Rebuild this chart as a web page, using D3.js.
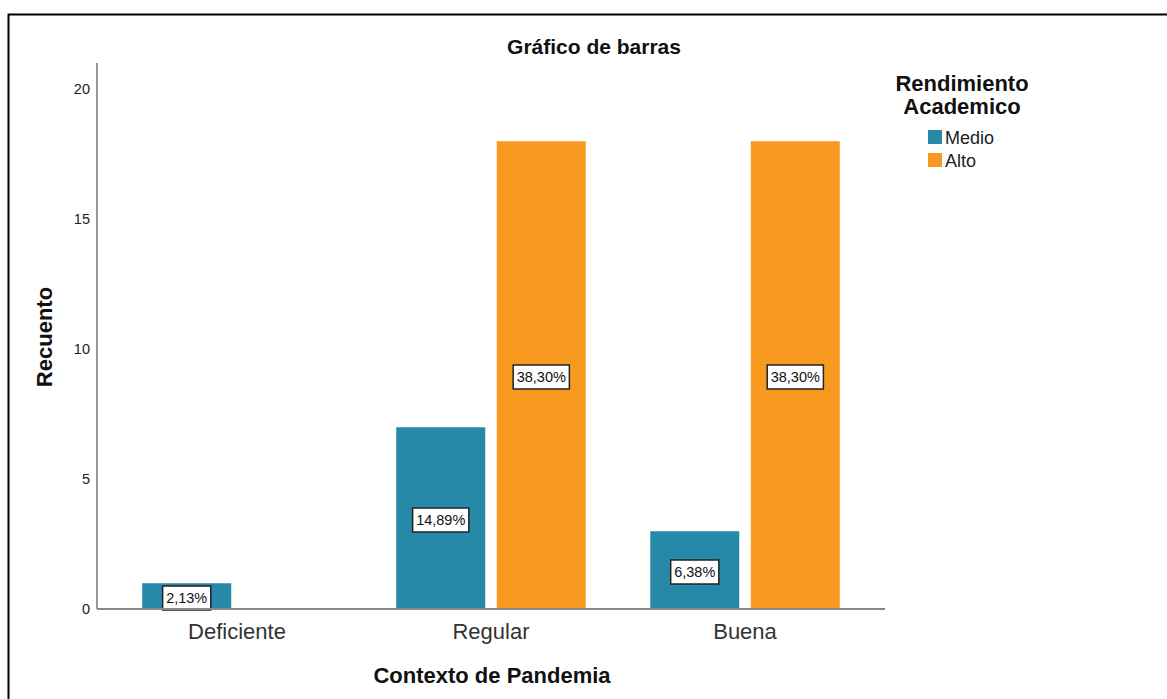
<!DOCTYPE html>
<html>
<head>
<meta charset="utf-8">
<script src="https://cdn.jsdelivr.net/npm/d3@7"></script>
<style>
    body { margin: 0; background: #fff; }
    svg { display: block; font-family: "Liberation Sans", Arial, sans-serif; }
</style>
</head>
<body>
<div id="chart"></div>
<script>
const categories = ['Deficiente', 'Regular', 'Buena'];
const series = ['Medio', 'Alto'];
const medioValues = [1, 7, 3];
const altoValues = [0, 18, 18];
const medioLabels = ['2,13%', '14,89%', '6,38%'];
const altoLabels = ['', '38,30%', '38,30%'];
const yTicks = [0, 5, 10, 15, 20];
const colors = ['#2789a8', '#f89a20'];

const width = 1167, height = 699;
const svg = d3.select('#chart').append('svg')
    .attr('width', width)
    .attr('height', height);

// outer frame (cut off at right and bottom)
svg.append('path')
    .attr('d', 'M8.5,' + height + ' V14.5 H' + width)
    .attr('fill', 'none')
    .attr('stroke', '#000')
    .attr('stroke-width', 2);

const plotLeft = 97, plotRight = 885, plotTop = 63, plotBottom = 609;

const x = d3.scaleBand()
    .domain(categories)
    .range([plotLeft, plotRight])
    .paddingInner(0.252)
    .paddingOuter(0.177);

const xs = d3.scaleBand()
    .domain(series)
    .range([0, x.bandwidth()])
    .paddingInner(0.11);

const y = d3.scaleLinear()
    .domain([0, 21])
    .range([plotBottom, plotTop]);

const rows = categories.map((c, i) => ({
    cat: c,
    vals: [
        { s: 'Medio', v: medioValues[i], label: medioLabels[i] },
        { s: 'Alto', v: altoValues[i], label: altoLabels[i] }
    ]
}));

// title
svg.append('text')
    .attr('x', 594).attr('y', 54)
    .attr('text-anchor', 'middle')
    .attr('font-size', 21).attr('font-weight', 'bold')
    .attr('fill', '#111')
    .text('Gráfico de barras');

// bars
const groups = svg.selectAll('g.cat')
    .data(rows)
    .enter().append('g')
    .attr('class', 'cat')
    .attr('transform', d => `translate(${x(d.cat)},0)`);

groups.selectAll('rect')
    .data(d => d.vals.filter(v => v.v > 0))
    .enter().append('rect')
    .attr('x', d => xs(d.s))
    .attr('y', d => y(d.v))
    .attr('width', xs.bandwidth())
    .attr('height', d => y(0) - y(d.v))
    .attr('fill', d => colors[series.indexOf(d.s)])
    .attr('stroke', '#fff')
    .attr('stroke-opacity', 0.5)
    .attr('stroke-width', 1);

// value labels
const labs = groups.selectAll('g.lab')
    .data(d => d.vals.filter(v => v.v > 0 && v.label))
    .enter().append('g')
    .attr('class', 'lab')
    .attr('transform', d => `translate(${xs(d.s) + xs.bandwidth() / 2},${(y(d.v) + y(0)) / 2 + 2})`);

labs.each(function(d) {
    const g = d3.select(this);
    const t = g.append('text')
        .attr('text-anchor', 'middle')
        .attr('dy', '0.36em')
        .attr('font-size', 14.5)
        .attr('fill', '#111')
        .text(d.label);
    const w = t.node().getComputedTextLength() + 7;
    g.insert('rect', 'text')
        .attr('x', -w / 2).attr('y', -12)
        .attr('width', w).attr('height', 24)
        .attr('fill', '#fff')
        .attr('stroke', '#222')
        .attr('stroke-width', 1.5);
});

// axes
svg.append('line')
    .attr('x1', plotLeft).attr('x2', plotLeft)
    .attr('y1', plotTop).attr('y2', plotBottom)
    .attr('stroke', '#999').attr('stroke-width', 2);
svg.append('line')
    .attr('x1', plotLeft).attr('x2', plotRight)
    .attr('y1', plotBottom).attr('y2', plotBottom)
    .attr('stroke', '#888').attr('stroke-width', 2);

svg.selectAll('text.ytick')
    .data(yTicks)
    .enter().append('text')
    .attr('class', 'ytick')
    .attr('x', 90)
    .attr('y', d => y(d))
    .attr('dy', '0.36em')
    .attr('text-anchor', 'end')
    .attr('font-size', 14.5)
    .attr('fill', '#222')
    .text(d => d);

svg.selectAll('text.xtick')
    .data(categories)
    .enter().append('text')
    .attr('class', 'xtick')
    .attr('x', d => x(d) + x.bandwidth() / 2)
    .attr('y', 639)
    .attr('text-anchor', 'middle')
    .attr('font-size', 22)
    .attr('fill', '#333')
    .text(d => d);

svg.append('text')
    .attr('transform', 'translate(52,337) rotate(-90)')
    .attr('text-anchor', 'middle')
    .attr('font-size', 22).attr('font-weight', 'bold')
    .attr('fill', '#111')
    .text('Recuento');

svg.append('text')
    .attr('x', 492).attr('y', 683)
    .attr('text-anchor', 'middle')
    .attr('font-size', 22).attr('font-weight', 'bold')
    .attr('fill', '#111')
    .text('Contexto de Pandemia');

// legend
const legend = svg.append('g');
legend.selectAll('text.lt')
    .data(['Rendimiento', 'Academico'])
    .enter().append('text')
    .attr('class', 'lt')
    .attr('x', 962)
    .attr('y', (d, i) => 91 + i * 23)
    .attr('text-anchor', 'middle')
    .attr('font-size', 22).attr('font-weight', 'bold')
    .attr('fill', '#111')
    .text(d => d);

const items = legend.selectAll('g.li')
    .data(series)
    .enter().append('g')
    .attr('class', 'li')
    .attr('transform', (d, i) => `translate(928,${130 + i * 23})`);
items.append('rect')
    .attr('width', 14).attr('height', 14)
    .attr('fill', (d, i) => colors[i]);
items.append('text')
    .attr('x', 17).attr('y', 8)
    .attr('dy', '0.36em')
    .attr('font-size', 18)
    .attr('fill', '#222')
    .text(d => d);
</script>
</body>
</html>
